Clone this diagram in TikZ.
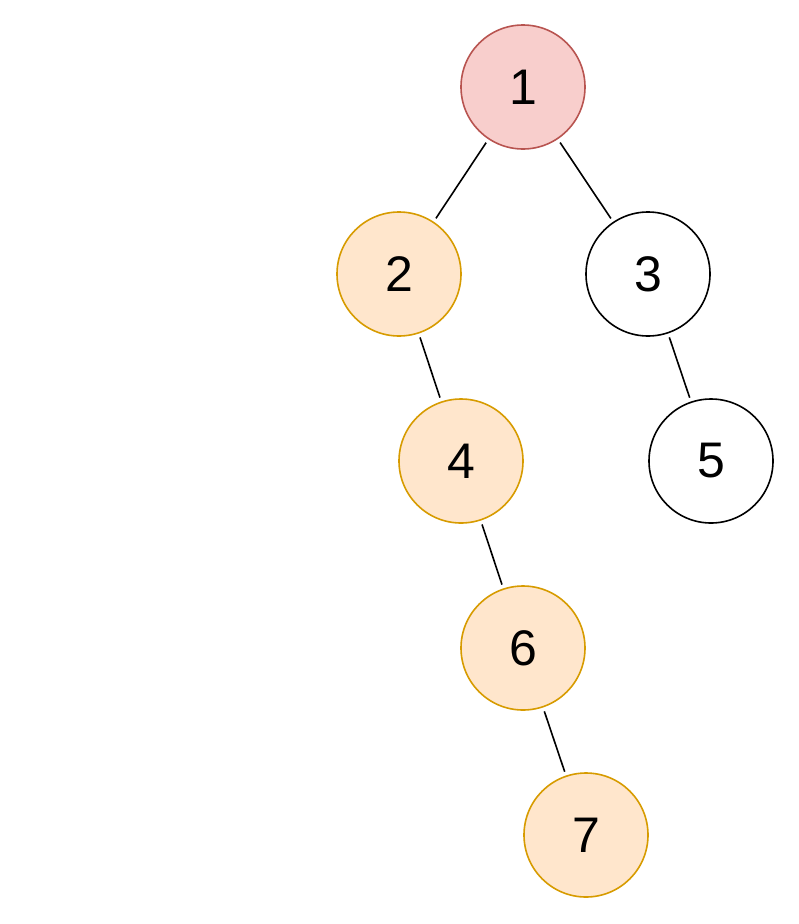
\documentclass[tikz,border=0pt]{standalone}
\usepackage{fontspec}
\setmainfont{Liberation Sans}
\definecolor{pinkf}{HTML}{F8CECC}\definecolor{pinkd}{HTML}{B85450}
\definecolor{orf}{HTML}{FFE6CC}\definecolor{ord}{HTML}{D79B00}
\begin{document}
\begin{tikzpicture}[x=1pt,y=-1pt,
  nd/.style={circle,draw=black,line width=1.6pt,minimum size=124pt,inner sep=0pt,font=\fontsize{50}{56}\selectfont},
  pk/.style={nd,fill=pinkf,draw=pinkd},
  og/.style={nd,fill=orf,draw=ord},
  ed/.style={line width=1.6pt,shorten >=4pt,shorten <=4pt}]
\useasboundingbox (0,0) rectangle (799,924);
\node[pk] (n1) at (523,87) {1};
\node[og] (n2) at (399,274) {2};
\node[nd] (n3) at (648,274) {3};
\node[og] (n4) at (461,461) {4};
\node[nd] (n5) at (711,461) {5};
\node[og] (n6) at (523,648) {6};
\node[og] (n7) at (586,835) {7};
\draw[ed] (n1)--(n2); \draw[ed] (n1)--(n3); \draw[ed] (n3)--(n5);
\draw[ed] (n2)--(n4); \draw[ed] (n4)--(n6); \draw[ed] (n6)--(n7);
\end{tikzpicture}
\end{document}
